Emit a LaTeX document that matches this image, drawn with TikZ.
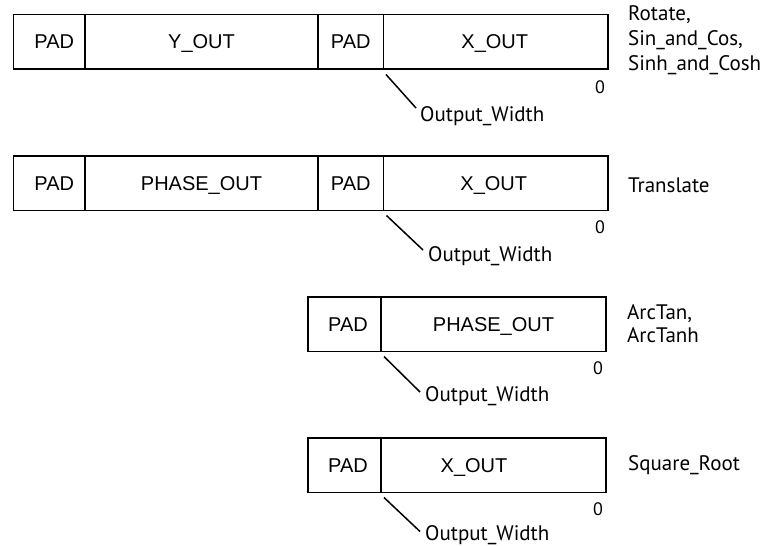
\documentclass[tikz,border=0pt]{standalone}
\usepackage{fontspec}
\setmainfont{Liberation Sans}
\newfontfamily\humfont{PT Sans}
\begin{document}
\begin{tikzpicture}[x=1pt,y=-1pt,
  cell/.style={draw, line width=1.8pt, minimum height=54.5pt, inner sep=0pt,
    outer sep=0pt, anchor=north west, font=\fontsize{20}{22}\selectfont,
    text height=14.3pt, text depth=0pt},
  hum/.style={font=\humfont\fontsize{21}{25}\selectfont, inner sep=0pt},
  lbl/.style={hum, text height=14.7pt, text depth=0pt},
  zero/.style={font=\humfont\fontsize{18}{20}\selectfont, inner sep=0pt,
    text height=12.6pt, text depth=0pt},
  lead/.style={line width=1.5pt}]
\useasboundingbox (0,0) rectangle (769,546);
% Row 1
\node[cell, minimum width=71.5pt] (r1a) at (13.5,14.5) {\hspace*{10pt}PAD};
\node[cell, minimum width=233pt] (r1b) at (r1a.north east) {Y\_OUT};
\node[cell, minimum width=65.5pt] (r1c) at (r1b.north east) {PAD};
\node[cell, minimum width=224.5pt] (r1d) at (r1c.north east) {X\_OUT\hspace*{2pt}};
\node[lbl, anchor=west] (o1) at (420,114) {Output\_Width};
\draw[lead] ([shift={(2.5,5.5)}]r1d.south west) -- ([shift={(-4,-6)}]o1.west);
\node[zero] (z1) at (600,87) {0};
\node[hum, anchor=west, align=left] (t1) at (628,40) {Rotate,\\Sin\_and\_Cos,\\Sinh\_and\_Cosh};
% Row 2
\node[cell, minimum width=71.5pt] (r2a) at (13.5,156) {\hspace*{10pt}PAD};
\node[cell, minimum width=233pt] (r2b) at (r2a.north east) {PHASE\_OUT};
\node[cell, minimum width=65.5pt] (r2c) at (r2b.north east) {PAD};
\node[cell, minimum width=224.5pt] (r2d) at (r2c.north east) {X\_OUT\hspace*{4pt}};
\node[lbl, anchor=west] (o2) at (428,254) {Output\_Width};
\draw[lead] ([shift={(3,5)}]r2d.south west) -- ([shift={(-5,-4)}]o2.west);
\node[zero] (z2) at (600,227) {0};
\node[lbl, anchor=west] (t2) at (628,185) {Translate};
% Row 3
\node[cell, minimum width=73pt] (r3a) at (308,297) {\hspace*{7pt}PAD};
\node[cell, minimum width=225pt] (r3b) at (r3a.north east) {PHASE\_OUT};
\node[lbl, anchor=west] (o3) at (425,394.5) {Output\_Width};
\draw[lead] ([shift={(3,5)}]r3b.south west) -- ([shift={(-5,-2.5)}]o3.west);
\node[zero] (z3) at (598,368) {0};
\node[hum, anchor=west, align=left, font=\humfont\fontsize{21}{23}\selectfont] (t3) at (627,323.3) {ArcTan,\\ArcTanh};
% Row 4
\node[cell, minimum width=73pt] (r4a) at (308,438) {\hspace*{7pt}PAD};
\node[cell, minimum width=225pt] (r4b) at (r4a.north east) {X\_OUT\hspace*{39pt}};
\node[lbl, anchor=west] (o4) at (425,533.5) {Output\_Width};
\draw[lead] ([shift={(3,5)}]r4b.south west) -- ([shift={(-5,-2)}]o4.west);
\node[zero] (z4) at (598,509) {0};
\node[lbl, anchor=west] (t4) at (628,463.5) {Square\_Root};
\end{tikzpicture}
\end{document}
